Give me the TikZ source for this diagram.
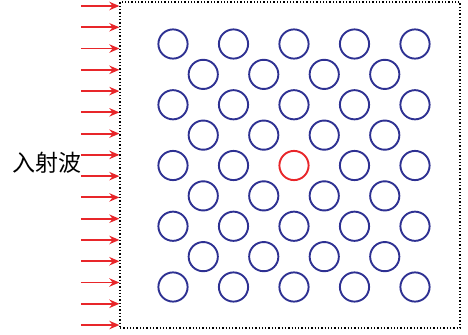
\documentclass[tikz,border=0pt]{standalone}
\usepackage{fontspec}
\newfontfamily\cjk{Noto Sans CJK SC}
\usepackage{xcolor}
\definecolor{cRod}{HTML}{2E3192}
\definecolor{cDefect}{HTML}{E8262A}
\definecolor{cWave}{HTML}{E8262A}
\usepackage{tikz}
\usetikzlibrary{positioning,arrows.meta}
\tikzset{
  node-rod/.style={draw=cRod,line width=0.95pt,circle,minimum size=14.6pt,inner sep=0pt},
  node-defect/.style={draw=cDefect,line width=0.95pt,circle,minimum size=14.6pt,inner sep=0pt},
  node-domain/.style={draw=black,densely dotted,line width=0.65pt,
    minimum width=170pt,minimum height=163pt,inner sep=0pt},
  arrow-wave/.style={-{Stealth[length=5pt,width=4.2pt]},line width=0.95pt,draw=cWave},
}

\begin{document}
\begin{tikzpicture}[x=0.5pt,y=0.5pt]
  \useasboundingbox (0,0) rectangle (468,334);

  % 计算区域
  \node[node-domain] (domain) at (290,169) {};

  % 介质柱：偶数行 5 个，奇数行 4 个，中心为缺陷
  \foreach \r in {0,2,4,6,8}
    \foreach \c in {0,...,4} {
      \def\rodstyle{node-rod}
      \ifnum\r=4 \ifnum\c=2 \def\rodstyle{node-defect}\fi\fi
      \node[\rodstyle] (rod-\r-\c) at ({173+60.5*\c},{290-30.375*\r}) {};
    }
  \foreach \r in {1,3,5,7}
    \foreach \c in {0,...,3}
      \node[node-rod] (rod-\r-\c) at ({203.25+60.5*\c},{290-30.375*\r}) {};

  % 入射波
  \foreach \i in {0,...,15} {
    \coordinate (src-\i) at (81,{328-21.27*\i});
    \draw[arrow-wave] (src-\i) -- (src-\i -| domain.west);
  }
  \node[font=\cjk\fontsize{11.5}{13}\selectfont,inner sep=0pt] (label) at (47,171) {入射波};
\end{tikzpicture}
\end{document}
